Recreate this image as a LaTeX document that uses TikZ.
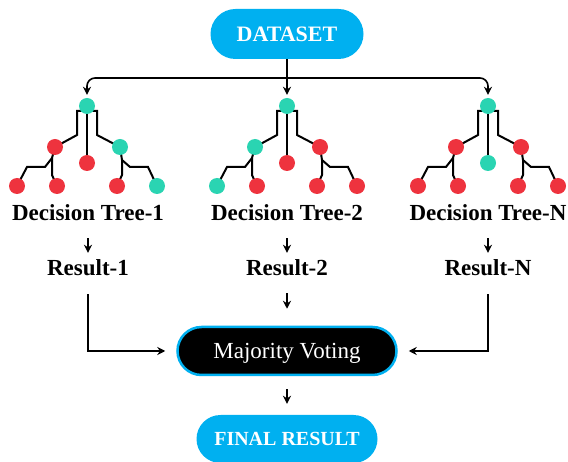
\documentclass[tikz,border=0pt]{standalone}
\usepackage{fontspec}
\setmainfont{Liberation Serif}
\usetikzlibrary{arrows.meta,backgrounds}
\definecolor{sky}{HTML}{00B0F0}
\definecolor{tl}{HTML}{2AD4B2}
\definecolor{rd}{HTML}{EE333E}
\tikzset{
  dot/.style={circle,minimum size=16pt,inner sep=0pt,draw=none},
  edge/.style={line width=2pt,black},
  conn/.style={line width=1.6pt,black,-{Stealth[length=8pt,width=8pt]}},
  lbl/.style={font=\fontsize{23}{27}\selectfont\bfseries,inner sep=0pt,text height=16pt,text depth=5pt},
  pill/.style={rectangle,inner sep=0pt,text depth=0pt,text=white},
}
\newcommand\mytree[9]{%
  \node[dot,fill=#2] (#1r) at (0,106) {};
  \node[dot,fill=#3] (#1a) at (-32,147) {};
  \node[dot,fill=#4] (#1b) at (0,163) {};
  \node[dot,fill=#5] (#1c) at (33,147) {};
  \node[dot,fill=#6] (#1a1) at (-70,186) {};
  \node[dot,fill=#7] (#1a2) at (-30,186) {};
  \node[dot,fill=#8] (#1c1) at (30,186) {};
  \node[dot,fill=#9] (#1c2) at (70,186) {};
  \begin{pgfonlayer}{background}
    \draw[edge] (#1r.center) ++(0,5) -- ++(-10,0) -- ++(0,24) -- (#1a.center);
    \draw[edge] (#1r.center) -- (#1b.center);
    \draw[edge] (#1r.center) ++(0,5) -- ++(10,0) -- ++(0,24) -- (#1c.center);
    \draw[edge] (#1a.center) -- ++(-3,11) -- ++(-7,9) -- ++(-18,0) -- (#1a1.center);
    \draw[edge] (#1a.center) ++(-3,11) -- ++(0,17) -- (#1a2.center);
    \draw[edge] (#1c.center) -- ++(2,13) -- ++(8,7) -- ++(18,0) -- (#1c2.center);
    \draw[edge] (#1c.center) ++(2,13) -- ++(0,15) -- (#1c1.center);
  \end{pgfonlayer}
}
\begin{document}
\begin{tikzpicture}[x=1pt,y=-1pt]
\useasboundingbox (0,0) rectangle (568,462);
% top pill
\node[pill,fill=sky,minimum width=153pt,minimum height=50pt,rounded corners=25pt,text height=14.6pt,
  font=\fontsize{22}{26}\selectfont\bfseries] (ds) at (287,34) {DATASET};
% trees
\begin{scope}[xshift=87pt]
  \mytree{t1}{tl}{rd}{rd}{tl}{rd}{rd}{rd}{tl}
\end{scope}
\begin{scope}[xshift=287pt]
  \mytree{t2}{tl}{tl}{rd}{rd}{tl}{rd}{rd}{rd}
\end{scope}
\begin{scope}[xshift=488pt]
  \mytree{t3}{tl}{rd}{tl}{rd}{rd}{rd}{rd}{rd}
\end{scope}
% distribution
\coordinate (j) at (287,78);
\draw[conn,shorten >=3pt] (ds) -- (t2r);
\draw[conn,rounded corners=8pt,shorten >=3pt] (j) -| (t1r);
\draw[conn,rounded corners=8pt,shorten >=3pt] (j) -| (t3r);
% labels
\node[lbl] (dt1) at (88,215.5) {Decision Tree-1};
\node[lbl] (dt2) at (287,215.5) {Decision Tree-2};
\node[lbl] (dt3) at (488,215.5) {Decision Tree-N};
\node[lbl] (rs1) at (88,270.5) {Result-1};
\node[lbl] (rs2) at (287,270.5) {Result-2};
\node[lbl] (rs3) at (488,270.5) {Result-N};
\draw[conn,shorten <=12pt,shorten >=7pt] (dt1) -- (rs1);
\draw[conn,shorten <=12pt,shorten >=7pt] (dt2) -- (rs2);
\draw[conn,shorten <=12pt,shorten >=7pt] (dt3) -- (rs3);
% majority
\node[pill,fill=black,draw=sky,line width=2.5pt,minimum width=219pt,minimum height=48pt,text height=15.2pt,
  rounded corners=24pt,font=\fontsize{23}{27}\selectfont] (mv) at (287,351) {Majority Voting};
\draw[conn,shorten <=12pt,shorten >=17pt] (rs2) -- (mv);
\draw[conn,shorten <=13pt,shorten >=11pt] (rs1) |- (mv);
\draw[conn,shorten <=13pt,shorten >=11pt] (rs3) |- (mv);
% final
\node[pill,fill=sky,minimum width=181pt,minimum height=48pt,rounded corners=24pt,text height=13.2pt,
  font=\fontsize{20}{24}\selectfont\bfseries] (fr) at (287,439) {FINAL RESULT};
\draw[conn,shorten <=13pt,shorten >=11pt] (mv) -- (fr);
\end{tikzpicture}
\end{document}
